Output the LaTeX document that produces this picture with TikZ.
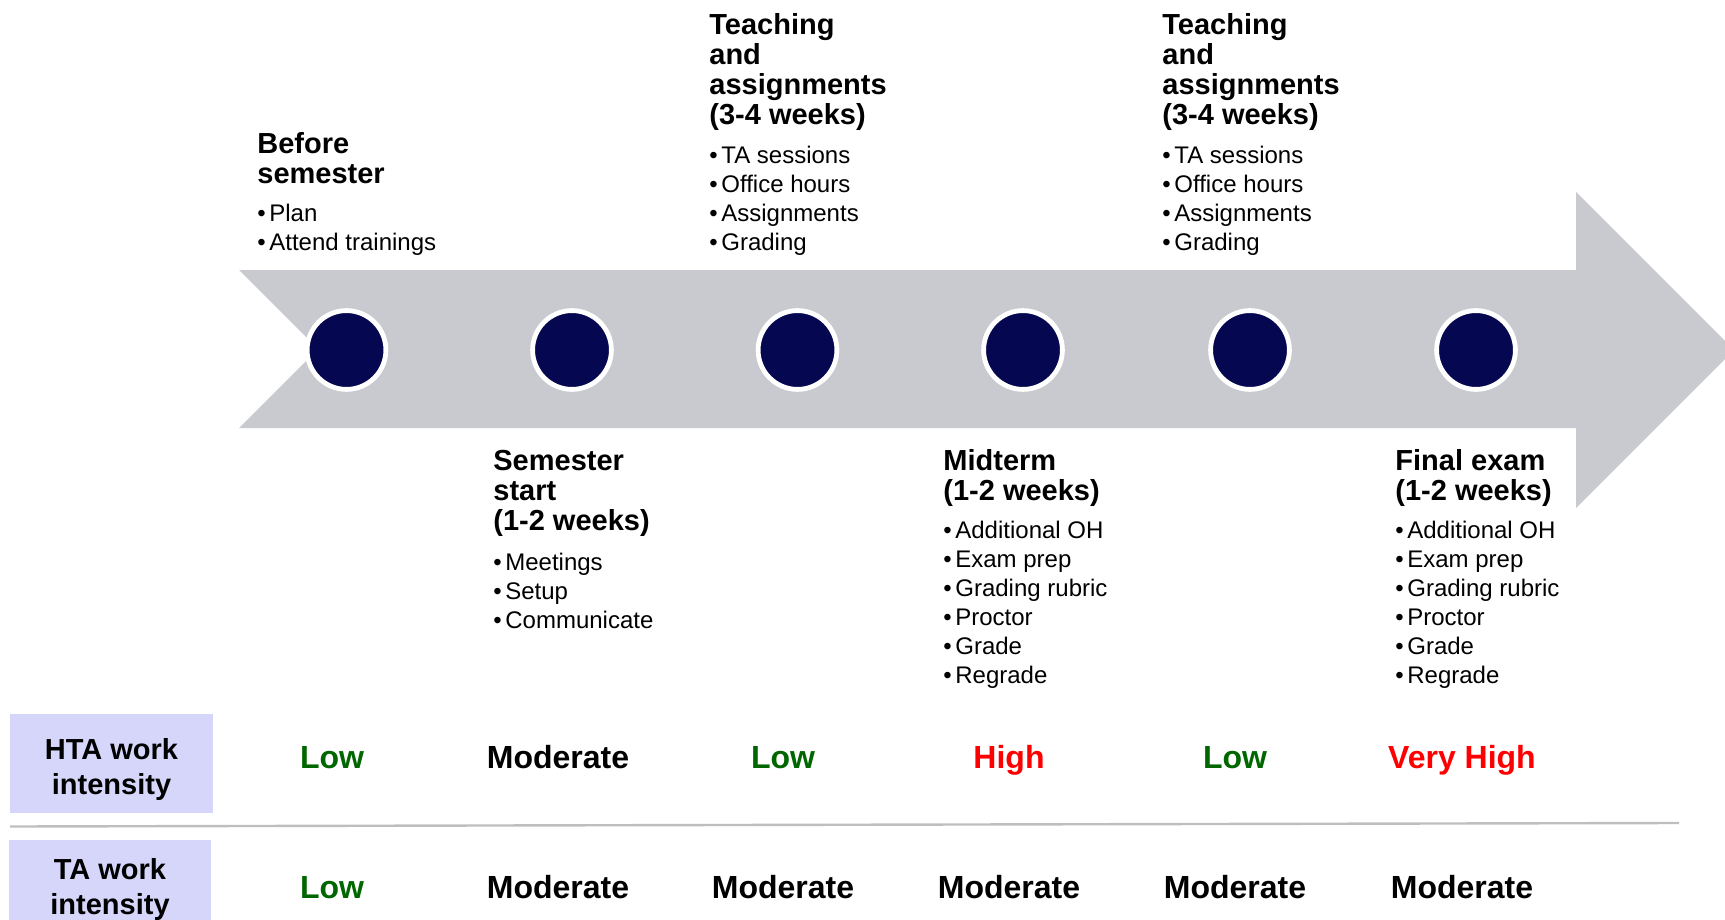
\documentclass[tikz,border=0pt]{standalone}
\usepackage{fontspec}
\setmainfont{Liberation Sans}
\definecolor{navy}{RGB}{5,8,80}
\definecolor{shaft}{RGB}{201,202,207}
\definecolor{lavender}{RGB}{214,214,250}
\definecolor{lowgreen}{RGB}{0,102,0}
\definecolor{highred}{RGB}{255,0,0}
\definecolor{rulegray}{RGB}{190,190,190}
\newcommand{\bul}{\makebox[6pt][l]{\textbullet}}

\tikzset{
    milestone/.style={circle, fill=navy, draw=white, line width=2.4pt,
        minimum size=39.4pt, inner sep=0pt},
    % base = baseline of the last line
    phasetitle/.style={anchor=base west, align=left, inner sep=0pt,
        font=\fontsize{14.5}{15}\selectfont\bfseries},
    phaselist/.style={anchor=base west, align=left, inner sep=0pt,
        font=\fontsize{12}{14.5}\selectfont},
    rowlabel/.style={align=center, inner sep=0pt,
        font=\fontsize{14.5}{17.5}\selectfont\bfseries},
    workload/.style={anchor=base, inner sep=0pt,
        font=\fontsize{16}{19}\selectfont\bfseries}
}

\begin{document}
\begin{tikzpicture}[x=0.5pt, y=-0.5pt]
    \useasboundingbox (0,0) rectangle (1725,920);

    % timeline arrow
    \fill[shaft] (239,270) -- (1576,270) -- (1576,192) -- (1734,350)
        -- (1576,508) -- (1576,428) -- (239,428) -- (318,349) -- cycle;

    % milestones
    \node[milestone] (m1) at (346.5,350) {};
    \node[milestone] (m2) at (572,350)   {};
    \node[milestone] (m3) at (797.5,350) {};
    \node[milestone] (m4) at (1023,350)  {};
    \node[milestone] (m5) at (1250,350)  {};
    \node[milestone] (m6) at (1476,350)  {};

    % phases above the arrow
    \node[phasetitle] (before) at (257,184) {Before\\semester};
    \node[phaselist] (beforelist) at (257,250) {\bul Plan\\\bul Attend trainings};
    \node[phasetitle] (teachA) at (709,125) {Teaching\\and\\assignments\\(3-4 weeks)};
    \node[phaselist] (teachAlist) at (709,250)
        {\bul TA sessions\\\bul Office hours\\\bul Assignments\\\bul Grading};
    \node[phasetitle] (teachB) at (1162,125) {Teaching\\and\\assignments\\(3-4 weeks)};
    \node[phaselist] (teachBlist) at (1162,250)
        {\bul TA sessions\\\bul Office hours\\\bul Assignments\\\bul Grading};

    % phases below the arrow
    \node[phasetitle] (start) at (493,530) {Semester\\start\\(1-2 weeks)};
    \node[phaselist] (startlist) at (493,628) {\bul Meetings\\\bul Setup\\\bul Communicate};
    \node[phasetitle] (midterm) at (943,500) {Midterm\\(1-2 weeks)};
    \node[phaselist] (midtermlist) at (943,683)
        {\bul Additional OH\\\bul Exam prep\\\bul Grading rubric\\\bul Proctor\\\bul Grade\\\bul Regrade};
    \node[phasetitle] (final) at (1395,500) {Final exam\\(1-2 weeks)};
    \node[phaselist] (finallist) at (1395,683)
        {\bul Additional OH\\\bul Exam prep\\\bul Grading rubric\\\bul Proctor\\\bul Grade\\\bul Regrade};

    % work intensity table
    \fill[lavender] (10,714) rectangle (213,813);
    \fill[lavender] (9,840) rectangle (211,939);
    \node[rowlabel] (hta) at (111.5,769) {HTA work\\intensity};
    \node[rowlabel] (ta) at (110,889.5) {TA work\\intensity};
    \draw[rulegray, line width=1.2pt] (10,826.5) -- (1679,823);

    \node[workload, lowgreen] (hta1) at (332,768)  {Low};
    \node[workload]           (hta2) at (558,768)  {Moderate};
    \node[workload, lowgreen] (hta3) at (783,768)  {Low};
    \node[workload, highred]  (hta4) at (1009,768) {High};
    \node[workload, lowgreen] (hta5) at (1235,768) {Low};
    \node[workload, highred]  (hta6) at (1462,768) {Very High};

    \node[workload, lowgreen] (ta1) at (332,898)  {Low};
    \node[workload]           (ta2) at (558,898)  {Moderate};
    \node[workload]           (ta3) at (783,898)  {Moderate};
    \node[workload]           (ta4) at (1009,898) {Moderate};
    \node[workload]           (ta5) at (1235,898) {Moderate};
    \node[workload]           (ta6) at (1462,898) {Moderate};
\end{tikzpicture}
\end{document}
